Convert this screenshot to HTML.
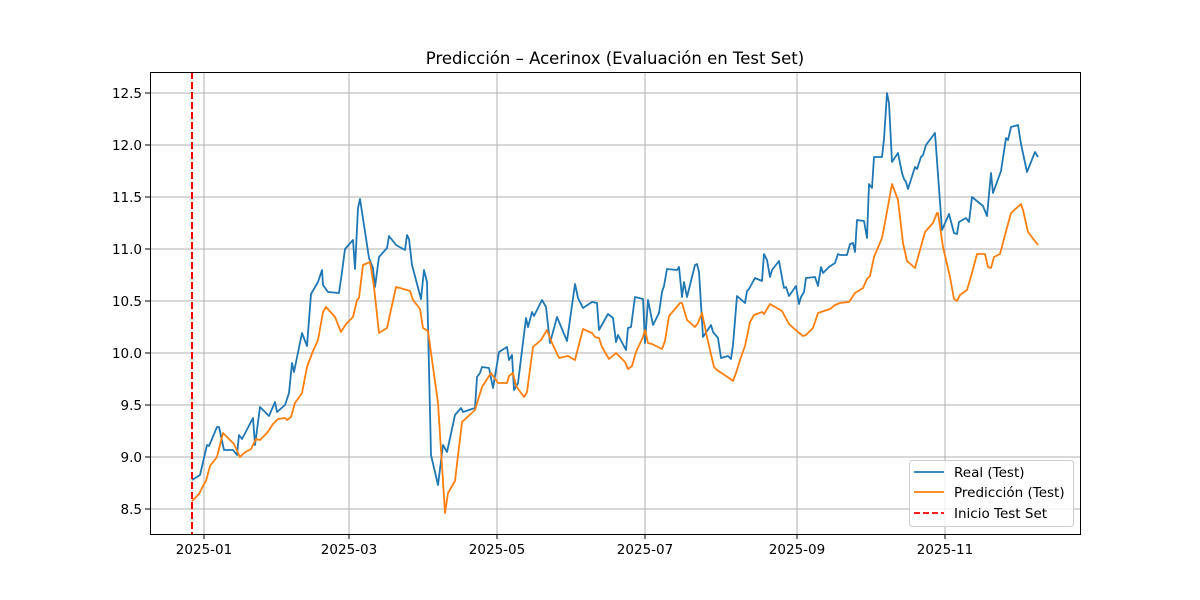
<!DOCTYPE html>
<html><head><meta charset="utf-8"><style>body{margin:0;background:#fff}svg{display:block}text{font-family:"DejaVu Sans","Liberation Sans",sans-serif;fill:#000}</style></head><body>
<svg width="1200" height="600" viewBox="0 0 1200 600">
<rect width="1200" height="600" fill="#fff"/>
<g stroke="#b0b0b0" stroke-width="1">
<line x1="150" x2="1080" y1="93" y2="93"/><line x1="150" x2="1080" y1="145" y2="145"/><line x1="150" x2="1080" y1="197" y2="197"/><line x1="150" x2="1080" y1="249" y2="249"/><line x1="150" x2="1080" y1="301" y2="301"/><line x1="150" x2="1080" y1="353" y2="353"/><line x1="150" x2="1080" y1="405" y2="405"/><line x1="150" x2="1080" y1="457" y2="457"/><line x1="150" x2="1080" y1="509" y2="509"/>
<line y1="72" y2="534" x1="204" x2="204"/><line y1="72" y2="534" x1="349" x2="349"/><line y1="72" y2="534" x1="497" x2="497"/><line y1="72" y2="534" x1="645" x2="645"/><line y1="72" y2="534" x1="797" x2="797"/><line y1="72" y2="534" x1="945" x2="945"/>
</g>
<polyline fill="none" stroke="#1f77b4" stroke-width="1.8" stroke-linejoin="round" points="192,480 200,475 207,445 209,446 217,427 219,427 224,450 233,450 237,455 239,435 242,439 253,418 255,445 260,407 269,416 275,402 277,412 285,405 289,393 292,363 294,372 302,333 307,346 311,294 318,282 322,270 323,285 328,292 339,293 342,272 345,249 353,240 355,269 358,208 360,199 369,258 373,268 375,287 379,257 387,248 389,236 396,245 405,250 407,235 409,239 412,265 421,299 424,270 427,282 431,455 438,485 443,445 447,452 455,415 461,408 463,412 475,408 477,377 480,373 482,367 489,368 493,388 499,352 507,347 509,360 512,355 514,390 518,383 526,318 528,327 532,312 534,316 542,300 546,307 550,343 557,317 567,341 575,284 578,298 583,308 592,302 597,303 599,330 608,314 613,318 616,342 618,335 626,350 628,328 631,327 635,297 643,299 645,343 648,300 653,325 659,313 662,292 664,286 667,269 677,270 679,267 682,297 684,282 687,297 695,265 697,264 699,272 703,337 711,325 713,332 718,338 721,358 728,356 731,359 733,345 737,296 745,303 747,291 749,289 755,278 762,281 764,254 767,260 770,277 772,270 779,261 783,283 784,288 786,287 789,296 796,286 799,304 801,297 804,292 806,278 815,277 818,286 821,267 823,273 829,267 835,263 838,254 840,255 847,255 850,244 853,243 855,252 857,220 864,221 867,238 869,184 872,188 874,157 882,157 884,139 887,93 889,103 892,162 898,153 902,173 904,179 906,182 908,189 915,167 917,169 921,157 923,155 926,145 935,133 942,230 949,214 954,233 957,234 959,222 966,218 969,222 972,197 983,206 987,216 991,173 993,193 1001,171 1006,138 1008,140 1011,127 1018,125 1021,144 1027,172 1035,152 1038,157"/>
<polyline fill="none" stroke="#ff7f0e" stroke-width="1.8" stroke-linejoin="round" points="192,501 199,494 203,486 206,481 210,466 217,457 223,433 227,437 234,444 240,457 244,453 251,449 256,439 260,440 267,433 273,424 278,419 285,418 287,420 291,417 295,403 302,393 307,367 313,351 318,340 323,312 326,307 335,317 341,332 346,324 353,317 357,300 359,298 363,265 370,262 374,287 379,333 387,328 396,287 400,288 410,291 413,300 420,309 423,328 428,331 438,403 445,513 448,493 455,481 462,422 475,410 482,387 491,373 498,383 507,383 509,376 513,373 516,386 524,397 527,392 533,347 541,340 547,330 552,343 559,358 568,356 575,360 583,329 592,333 595,337 599,338 602,347 609,359 616,353 620,357 625,362 628,369 632,366 636,352 643,337 645,330 648,343 652,344 662,349 665,341 669,316 680,303 682,303 687,320 695,327 698,323 702,313 707,337 714,367 717,370 729,378 733,381 736,373 740,360 745,346 750,322 754,315 762,312 764,314 770,304 782,311 789,324 798,332 803,336 806,335 813,328 818,313 830,309 835,305 840,303 849,302 855,293 863,288 867,279 870,276 874,257 882,238 886,217 892,184 898,200 903,243 907,261 915,268 925,232 933,223 937,213 938,213 943,247 950,277 954,299 957,301 960,295 967,290 972,273 977,254 985,254 988,267 991,268 994,257 1000,254 1005,235 1011,213 1021,204 1023,210 1028,232 1038,245"/>
<line x1="192" x2="192" y1="72" y2="534" stroke="#ff0000" stroke-width="2" stroke-dasharray="7,3"/>
<rect x="150.5" y="72.5" width="930" height="462" fill="none" stroke="#000" stroke-width="1"/>
<g stroke="#000" stroke-width="1"><line x1="145" x2="150" y1="93" y2="93"/><line x1="145" x2="150" y1="145" y2="145"/><line x1="145" x2="150" y1="197" y2="197"/><line x1="145" x2="150" y1="249" y2="249"/><line x1="145" x2="150" y1="301" y2="301"/><line x1="145" x2="150" y1="353" y2="353"/><line x1="145" x2="150" y1="405" y2="405"/><line x1="145" x2="150" y1="457" y2="457"/><line x1="145" x2="150" y1="509" y2="509"/>
<line y1="534" y2="539" x1="204" x2="204"/><line y1="534" y2="539" x1="349" x2="349"/><line y1="534" y2="539" x1="497" x2="497"/><line y1="534" y2="539" x1="645" x2="645"/><line y1="534" y2="539" x1="797" x2="797"/><line y1="534" y2="539" x1="945" x2="945"/></g>
<g font-size="13.5" text-anchor="end"><text x="142" y="98">12.5</text><text x="142" y="150">12.0</text><text x="142" y="202">11.5</text><text x="142" y="254">11.0</text><text x="142" y="306">10.5</text><text x="142" y="358">10.0</text><text x="142" y="410">9.5</text><text x="142" y="462">9.0</text><text x="142" y="514">8.5</text></g>
<g font-size="13.5" text-anchor="middle"><text x="204" y="554">2025-01</text><text x="349" y="554">2025-03</text><text x="497" y="554">2025-05</text><text x="645" y="554">2025-07</text><text x="797" y="554">2025-09</text><text x="945" y="554">2025-11</text></g>
<text x="615" y="64" font-size="16.5" text-anchor="middle">Predicción – Acerinox (Evaluación en Test Set)</text>
<rect x="909.5" y="460.5" width="164" height="66" rx="3" fill="#fff" fill-opacity="0.8" stroke="#ccc"/>
<line x1="914" x2="944" y1="472" y2="472" stroke="#1f77b4" stroke-width="1.8"/>
<line x1="914" x2="944" y1="492" y2="492" stroke="#ff7f0e" stroke-width="1.8"/>
<line x1="914" x2="944" y1="513" y2="513" stroke="#ff0000" stroke-width="1.8" stroke-dasharray="6,3"/>
<g font-size="13.5"><text x="954" y="477">Real (Test)</text><text x="954" y="497">Predicción (Test)</text><text x="954" y="518">Inicio Test Set</text></g>
</svg>
</body></html>
